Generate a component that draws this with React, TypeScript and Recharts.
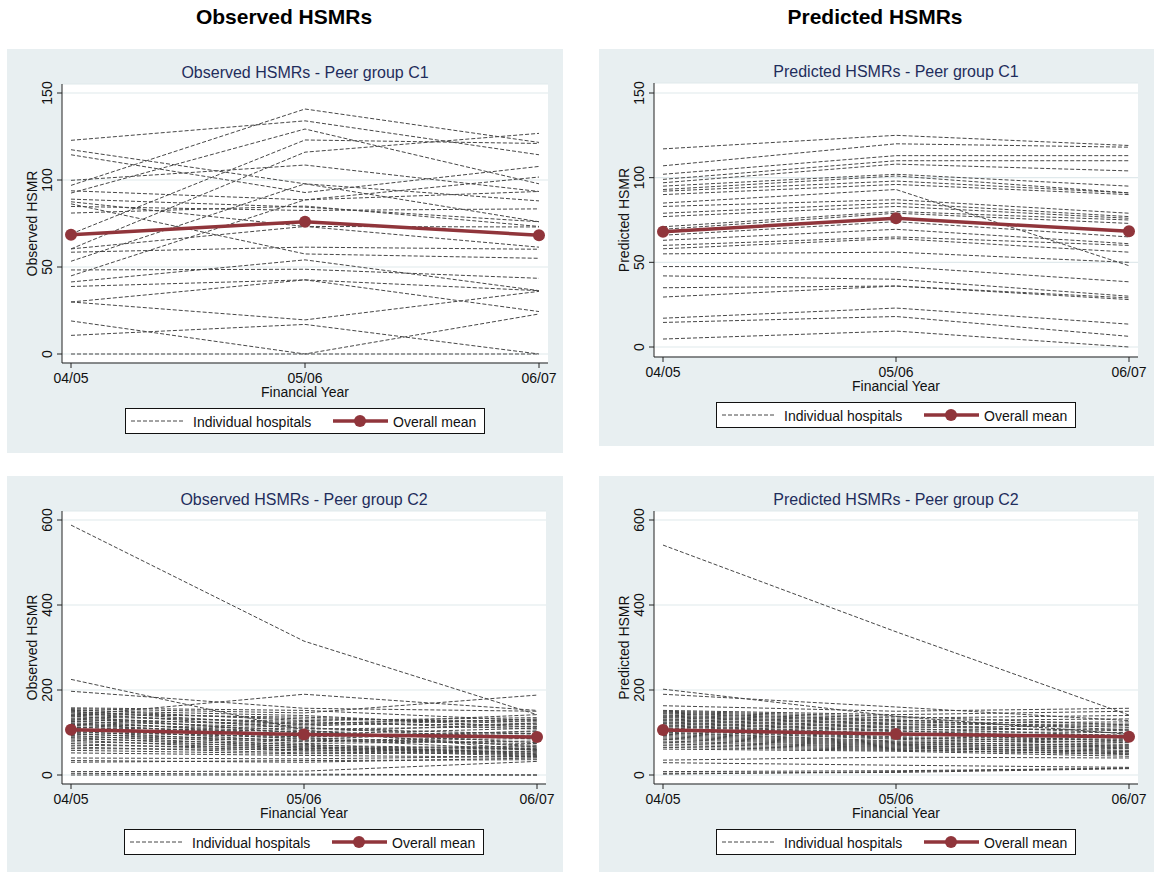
import React from 'react';
import { LineChart, Line, XAxis, YAxis, CartesianGrid } from 'recharts';

// financial years on the x axis
const years = ['04/05', '05/06', '06/07'];

const c1Ticks = [0, 50, 100, 150];
const c2Ticks = [0, 200, 400, 600];

// each hospital: [04/05, 05/06, 06/07]
const observedC1: number[][] = [
  [122.8, 134, 114.5],
  [96.9, 140.8, 121.6],
  [92.5, 129.3, 97.8],
  [69, 123, 121],
  [60.4, 116, 126.8],
  [117.4, 97.8, 88],
  [114.5, 92.8, 107.8],
  [99.8, 108.6, 93.4],
  [93.8, 88.6, 101.7],
  [89, 84.4, 76],
  [87.5, 73.3, 61.4],
  [86.3, 57.5, 55],
  [84.8, 82.5, 83.4],
  [81, 85, 73.3],
  [53.3, 97.8, 76],
  [58.5, 61.4, 60.2],
  [48.3, 48.7, 43.5],
  [44.9, 88.6, 93.4],
  [41.4, 54.1, 36.4],
  [38.8, 42.6, 36.4],
  [29.9, 42.6, 24.4],
  [29.9, 19.6, 36],
  [19, 0, 23],
  [10.7, 17, 0],
  [0, 0, 0],
  [60.4, 73.3, 73],
];
const observedC1Mean = [68.5, 76, 68.3];

const predictedC1: number[][] = [
  [117, 125, 119],
  [107, 120, 118],
  [102, 113, 113],
  [99, 110, 110],
  [97, 108, 104],
  [95, 102, 95],
  [93, 101, 91],
  [92, 98, 91],
  [90, 96, 90],
  [85, 93, 48],
  [83, 87, 79],
  [79, 85, 77],
  [77, 83, 76],
  [71, 80, 75],
  [69.5, 79, 73],
  [66, 74, 65],
  [63, 69.5, 61],
  [60, 65, 60],
  [58, 64, 56],
  [55, 56, 50],
  [47.5, 47.5, 38.5],
  [42, 40, 30],
  [35, 36, 28],
  [29.5, 36, 29],
  [17, 23, 13.5],
  [14.5, 18, 6.3],
  [4.7, 9.4, 0],
];
const predictedC1Mean = [68, 76, 68.3];

const observedC2: number[][] = [
  [588, 315, 142],
  [225, 106, 58],
  [197, 157, 150],
  [140, 190, 152],
  [156, 146, 188],
  [158, 152, 128],
  [154, 128, 135],
  [152, 140, 112],
  [150, 118, 142],
  [148, 132, 125],
  [146, 110, 96],
  [143, 136, 120],
  [141, 122, 130],
  [139, 98, 88],
  [137, 126, 108],
  [134, 115, 132],
  [132, 104, 76],
  [130, 120, 118],
  [128, 92, 102],
  [126, 112, 84],
  [123, 100, 122],
  [121, 88, 70],
  [119, 108, 114],
  [117, 95, 92],
  [114, 84, 104],
  [112, 102, 66],
  [110, 78, 86],
  [107, 96, 110],
  [105, 86, 58],
  [103, 74, 80],
  [100, 90, 98],
  [98, 70, 62],
  [96, 82, 74],
  [93, 66, 54],
  [90, 80, 90],
  [88, 62, 68],
  [85, 72, 50],
  [82, 58, 64],
  [78, 68, 48],
  [74, 56, 60],
  [70, 64, 46],
  [66, 52, 56],
  [62, 60, 44],
  [58, 50, 52],
  [52, 46, 42],
  [40, 38, 44],
  [34, 30, 40],
  [30, 34, 36],
  [8, 9, 32],
  [4, 2, 0],
  [0, 0, 0],
];
const observedC2Mean = [106.5, 95.5, 89.3];

const predictedC2: number[][] = [
  [541, 337, 141],
  [202, 138, 96],
  [190, 160, 128],
  [163, 150, 157],
  [152, 142, 150],
  [150, 138, 118],
  [148, 134, 140],
  [146, 130, 106],
  [144, 128, 132],
  [141, 126, 112],
  [139, 122, 125],
  [137, 120, 98],
  [135, 118, 120],
  [132, 114, 104],
  [130, 112, 116],
  [128, 110, 92],
  [125, 106, 108],
  [123, 104, 86],
  [121, 102, 100],
  [118, 98, 94],
  [116, 96, 80],
  [114, 94, 88],
  [111, 90, 84],
  [109, 88, 76],
  [106, 86, 82],
  [104, 84, 72],
  [101, 80, 78],
  [99, 78, 68],
  [96, 76, 70],
  [93, 74, 64],
  [90, 72, 66],
  [87, 70, 58],
  [84, 68, 62],
  [80, 66, 55],
  [77, 64, 52],
  [73, 62, 56],
  [69, 60, 48],
  [65, 58, 50],
  [61, 56, 44],
  [35, 42, 40],
  [29, 23, 18],
  [8, 10, 16],
  [4, 6, 15],
  [2, 8, 16],
];
const predictedC2Mean = [106, 96.5, 90];

const FONT = '"Liberation Sans", Arial, Helvetica, sans-serif';
const PANEL_BG = '#e8eff1';
const MEAN_COLOR = '#90353b';
const HOSP_COLOR = '#474747';
const TITLE_COLOR = '#1f2d5c';

const buildRows = (hospitals: number[][], mean: number[]) =>
  years.map((year, i) => {
    const row: Record<string, string | number> = { year, mean: mean[i] };
    hospitals.forEach((h, j) => {
      row[`h${j}`] = h[i];
    });
    return row;
  });

const RotatedTick = (props: any) => {
  const { x, y, payload } = props;
  return (
    <text
      transform={`translate(${x - 3},${y}) rotate(-90)`}
      textAnchor="middle"
      fontSize={14}
      fontFamily={FONT}
      fill="#111"
    >
      {payload.value}
    </text>
  );
};

interface PanelProps {
  x: number;
  y: number;
  w: number;
  h: number;
  plot: { l: number; r: number; t: number; b: number };
  yPad: { top: number; bottom: number };
  title: string;
  yLabel: string;
  ticks: number[];
  hospitals: number[][];
  mean: number[];
}

function Panel({ x, y, w, h, plot, yPad, title, yLabel, ticks, hospitals, mean }: PanelProps) {
  const rows = buildRows(hospitals, mean);
  const xCenter = (plot.l + plot.r) / 2;
  const yCenter = (plot.t + yPad.top + plot.b - yPad.bottom) / 2;
  const legendLeft = xCenter - 180;
  const legendTop = plot.b + 45;

  return (
    <div style={{ position: 'absolute', left: x, top: y, width: w, height: h, background: PANEL_BG }}>
      <LineChart
        width={w}
        height={h}
        data={rows}
        margin={{ top: plot.t, right: w - plot.r, bottom: h - plot.b - 30, left: 0 }}
        style={{ position: 'absolute', left: 0, top: 0 }}
      >
        <CartesianGrid vertical={false} fill="#ffffff" stroke="#e0e9ec" strokeWidth={1.2} />
        <XAxis
          dataKey="year"
          height={30}
          interval={0}
          padding={{ left: 9, right: 9 }}
          tickSize={5}
          tickMargin={5}
          axisLine={{ stroke: '#222' }}
          tickLine={{ stroke: '#222' }}
          tick={{ fontSize: 14, fontFamily: FONT, fill: '#111' }}
        />
        <YAxis
          width={plot.l}
          type="number"
          domain={[ticks[0], ticks[ticks.length - 1]]}
          ticks={ticks}
          padding={yPad}
          tickSize={5}
          tickMargin={2}
          axisLine={{ stroke: '#222' }}
          tickLine={{ stroke: '#222' }}
          tick={<RotatedTick />}
        />
        {hospitals.map((_, j) => (
          <Line
            key={`h${j}`}
            dataKey={`h${j}`}
            stroke={HOSP_COLOR}
            strokeWidth={1}
            strokeDasharray="4 2"
            dot={false}
            activeDot={false}
            isAnimationActive={false}
          />
        ))}
        <Line
          dataKey="mean"
          stroke={MEAN_COLOR}
          strokeWidth={3.5}
          dot={{ r: 6, fill: MEAN_COLOR, stroke: MEAN_COLOR, strokeWidth: 0 }}
          activeDot={false}
          isAnimationActive={false}
        />
      </LineChart>
      <svg
        width={w}
        height={h}
        style={{ position: 'absolute', left: 0, top: 0, pointerEvents: 'none' }}
        fontFamily={FONT}
      >
        <text x={xCenter} y={plot.t - 6} textAnchor="middle" fontSize={16} fill={TITLE_COLOR}>
          {title}
        </text>
        <text
          transform={`translate(${plot.l - 25},${yCenter}) rotate(-90)`}
          textAnchor="middle"
          fontSize={14}
          fill="#111"
        >
          {yLabel}
        </text>
        <text x={xCenter} y={plot.b + 34} textAnchor="middle" fontSize={14} fill="#111">
          Financial Year
        </text>
        <g transform={`translate(${legendLeft},${legendTop})`}>
          <rect x={0.5} y={0.5} width={359} height={25} fill="#fff" stroke="#111" strokeWidth={1} />
          <line x1={6} y1={13} x2={58} y2={13} stroke={HOSP_COLOR} strokeWidth={1} strokeDasharray="4 2" />
          <text x={68} y={19} fontSize={14} fill="#111">
            Individual hospitals
          </text>
          <line x1={208} y1={13} x2={263} y2={13} stroke={MEAN_COLOR} strokeWidth={3.5} />
          <circle cx={235} cy={13} r={6} fill={MEAN_COLOR} />
          <text x={268} y={19} fontSize={14} fill="#111">
            Overall mean
          </text>
        </g>
      </svg>
    </div>
  );
}

export default function App() {
  return (
    <div style={{ position: 'absolute', left: 0, top: 0, width: 1154, height: 872, background: '#fff', fontFamily: FONT }}>
      <svg width={1154} height={40} style={{ position: 'absolute', left: 0, top: 0 }} fontFamily={FONT}>
        <text x={284} y={24} textAnchor="middle" fontSize={21} fontWeight="bold" fill="#000">
          Observed HSMRs
        </text>
        <text x={875} y={24} textAnchor="middle" fontSize={21} fontWeight="bold" fill="#000">
          Predicted HSMRs
        </text>
      </svg>
      <Panel
        x={7}
        y={49}
        w={556}
        h={404}
        plot={{ l: 55, r: 541, t: 35, b: 314 }}
        yPad={{ top: 9, bottom: 9 }}
        title="Observed HSMRs - Peer group C1"
        yLabel="Observed HSMR"
        ticks={c1Ticks}
        hospitals={observedC1}
        mean={observedC1Mean}
      />
      <Panel
        x={599}
        y={49}
        w={555}
        h={397}
        plot={{ l: 55, r: 539, t: 34, b: 308 }}
        yPad={{ top: 10, bottom: 10 }}
        title="Predicted HSMRs - Peer group C1"
        yLabel="Predicted HSMR"
        ticks={c1Ticks}
        hospitals={predictedC1}
        mean={predictedC1Mean}
      />
      <Panel
        x={7}
        y={476}
        w={556}
        h={396}
        plot={{ l: 55, r: 539, t: 35, b: 308 }}
        yPad={{ top: 9, bottom: 9 }}
        title="Observed HSMRs - Peer group C2"
        yLabel="Observed HSMR"
        ticks={c2Ticks}
        hospitals={observedC2}
        mean={observedC2Mean}
      />
      <Panel
        x={599}
        y={476}
        w={555}
        h={396}
        plot={{ l: 55, r: 539, t: 35, b: 308 }}
        yPad={{ top: 9, bottom: 9 }}
        title="Predicted HSMRs - Peer group C2"
        yLabel="Predicted HSMR"
        ticks={c2Ticks}
        hospitals={predictedC2}
        mean={predictedC2Mean}
      />
    </div>
  );
}
